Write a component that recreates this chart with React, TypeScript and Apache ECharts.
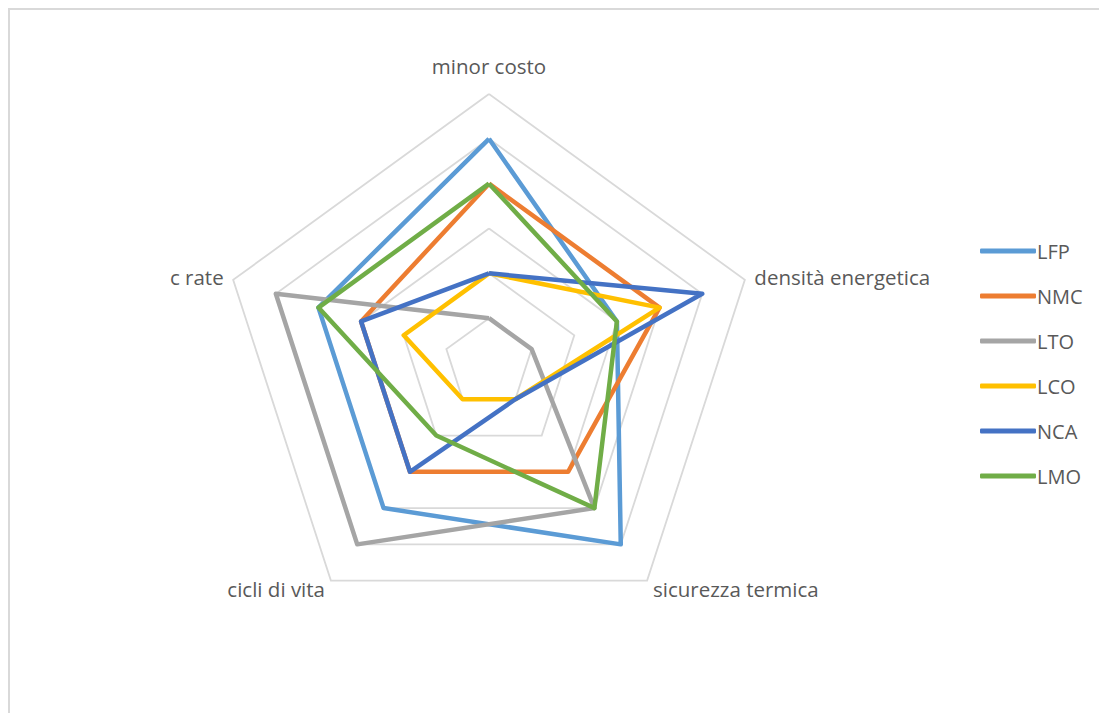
import React, { useEffect, useRef } from "react";
import * as echarts from "echarts";

const indicators = ["minor costo", "densità energetica", "sicurezza termica", "cicli di vita", "c rate"];
const seriesNames = ["LFP", "NMC", "LTO", "LCO", "NCA", "LMO"];
const lfp = [5, 3, 5, 4, 4];
const nmc = [4, 4, 3, 3, 3];
const lto = [1, 1, 4, 5, 5];
const lco = [2, 4, 1, 1, 2];
const nca = [2, 5, 1, 3, 3];
const lmo = [4, 3, 4, 2, 4];
const seriesValues = [lfp, nmc, lto, lco, nca, lmo];
const colors = ["#5B9BD5", "#ED7D31", "#A5A5A5", "#FFC000", "#4472C4", "#70AD47"];
const maxValue = 6;

// ECharts draws radar indicators counter-clockwise; reorder so they run clockwise like the source.
const order = [0, 4, 3, 2, 1];

export default function App() {
  const ref = useRef<HTMLDivElement>(null);
  useEffect(() => {
    if (!ref.current) return;
    const chart = echarts.init(ref.current, undefined, { renderer: "svg" });
    const font = "'Open Sans', 'Noto Sans', sans-serif";
    chart.setOption({
      animation: false,
      color: colors,
      legend: {
        orient: "vertical",
        left: 965,
        top: 226,
        data: seriesNames,
        icon: "roundRect",
        itemWidth: 56,
        itemHeight: 5,
        itemGap: 25,
        textStyle: { color: "#595959", fontSize: 20, fontFamily: font, lineHeight: 20, padding: [0, 0, 0, -4] },
      },
      radar: {
        center: [479, 353],
        radius: 269,
        startAngle: 90,
        splitNumber: 6,
        shape: "polygon",
        indicator: order.map((k) => ({ name: indicators[k], max: maxValue, min: 0 })),
        axisName: {
          color: "#595959",
          fontSize: 20.5,
          fontFamily: font,
          formatter: (name: string) => (name === indicators[0] ? "{top|" + name + "}" : name),
          rich: { top: { fontSize: 20.5, fontFamily: font, color: "#595959", padding: [0, 0, 8, 0] } },
        },
        nameGap: 10,
        splitLine: { lineStyle: { color: "#D9D9D9", width: 1.8 } },
        splitArea: { show: false },
        axisLine: { show: false },
        axisTick: { show: false },
        axisLabel: { show: false },
      },
      series: [
        {
          type: "radar",
          symbol: "none",
          data: seriesNames.map((name, i) => ({
            name,
            value: order.map((k) => seriesValues[i][k]),
            lineStyle: { color: colors[i], width: 4.5, join: "round" },
            itemStyle: { color: colors[i] },
          })),
        },
      ],
    });
    return () => chart.dispose();
  }, []);
  return (
    <div style={{ borderTop: "2px solid #D9D9D9", borderLeft: "2px solid #D9D9D9", width: 1097, height: 703, boxSizing: "content-box" }}>
      <div ref={ref} style={{ width: 1097, height: 703 }} />
    </div>
  );
}
